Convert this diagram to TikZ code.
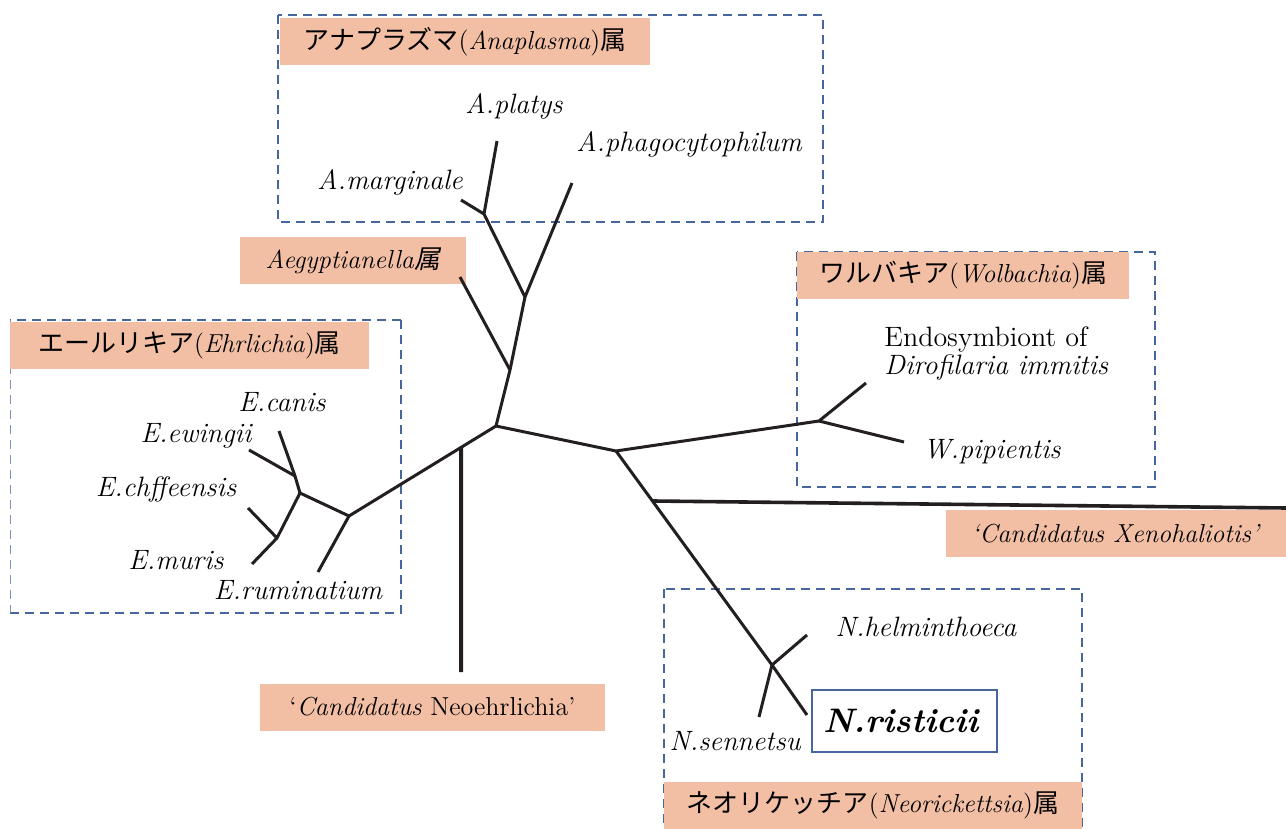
\documentclass[tikz,border=0pt]{standalone}
\usepackage{fontspec}
\newfontfamily\jpfont{Noto Sans CJK JP}
\newfontfamily\jpslant[FakeSlant=0.2]{Noto Sans CJK JP}
\usepackage{xcolor}
\usetikzlibrary{calc}
\definecolor{genusfill}{RGB}{242,191,165}
\definecolor{boxblue}{RGB}{72,102,158}
\definecolor{branchcol}{RGB}{35,31,32}

\begin{document}
\begin{tikzpicture}[
    x=0.5pt, y=-0.5pt,
    branch/.style={draw=branchcol, line width=1.5pt, line join=round},
    group/.style={draw=boxblue, line width=1pt, dash pattern=on 4.5pt off 3pt},
    genus/.style={rectangle, fill=genusfill, inner sep=0pt, minimum height=23.5pt, font=\fontsize{13}{15}\selectfont},
    species/.style={inner sep=0pt, anchor=base, font=\fontsize{14}{15}\selectfont\itshape},
    every node/.style={font=\fontsize{13}{15}\selectfont}
]
    \useasboundingbox (0,0) rectangle (1286,829);

    % Genus frames
    \draw[group] (278,15) rectangle (823,222);
    \draw[group] (401,320) -- (10,320);
    \draw[group] (401,320) -- (401,613) -- (10,613);
    \draw[boxblue!70, line width=0.5pt, dash pattern=on 4.5pt off 3pt] (10,320) -- (10,613);
    \draw[group] (797,252) rectangle (1155,487);
    \draw[group] (664,589) rectangle (1082,829);

    % Genus labels
    \node[genus, minimum width=185pt] (anaplasma) at (465,42) {{\jpfont アナプラズマ}(\textit{Anaplasma}){\jpfont 属}};
    \node[genus, minimum width=113pt] (aegypt) at (353,260.5) {\textit{Aegyptianella}{\jpslant 属}};
    \node[genus, minimum width=179.5pt] (ehrlichia) at (189.5,345) {{\jpfont エールリキア}(\textit{Ehrlichia}){\jpfont 属}};
    \node[genus, minimum width=166pt] (wolbachia) at (963,275.5) {{\jpfont ワルバキア}(\textit{Wolbachia}){\jpfont 属}};
    \node[genus, minimum width=170pt] (xeno) at (1116,533.5) {\textit{`Candidatus Xenohaliotis'}};
    \node[genus, minimum width=172.5pt] (neoehr) at (432.5,707) {`\textit{Candidatus} Neoehrlichia'};
    \node[genus, minimum width=209pt] (neorick) at (873,805.5) {{\jpfont ネオリケッチア}(\textit{Neorickettsia}){\jpfont 属}};

    % Tree junctions and leaves
    \coordinate (c1) at (496,426);
    \coordinate (a0) at (510,370);
    \coordinate (a1) at (525,297);
    \coordinate (a2) at (484,214);
    \coordinate (platysleaf) at (497,141);
    \coordinate (marginaleleaf) at (461,200);
    \coordinate (phagoleaf) at (572,183);
    \coordinate (aegyptleaf) at (460,277);
    \coordinate (e0) at (349,516);
    \coordinate (e1) at (300,493);
    \coordinate (e2) at (295,476);
    \coordinate (e3) at (277,538);
    \coordinate (canisleaf) at (279,431);
    \coordinate (ewingiileaf) at (249,450);
    \coordinate (chffleaf) at (248,508);
    \coordinate (murisleaf) at (252,564);
    \coordinate (ruminleaf) at (318,572);
    \coordinate (neotop) at ($(c1)!0.238!(e0)$);
    \coordinate (neoleaf) at (461,672);
    \coordinate (w0) at (616,451);
    \coordinate (w1) at (819,421);
    \coordinate (diroleaf) at (866,383);
    \coordinate (pipileaf) at (904,442);
    \coordinate (x0) at (653,501);
    \coordinate (xenoleaf) at (1286,508);
    \coordinate (n1) at (772,665);
    \coordinate (helmleaf) at (807,635);
    \coordinate (ristleaf) at (807,715);
    \coordinate (sennleaf) at (759,717);

    % Branches
    \draw[branch] (c1) -- (a0) -- (a1) -- (phagoleaf);
    \draw[branch] (a1) -- (a2) -- (platysleaf);
    \draw[branch] (a2) -- (marginaleleaf);
    \draw[branch] (a0) -- (aegyptleaf);
    \draw[branch] (c1) -- (e0) -- (e1) -- (e2) -- (canisleaf);
    \draw[branch] (e2) -- (ewingiileaf);
    \draw[branch] (e1) -- (e3) -- (chffleaf);
    \draw[branch] (e3) -- (murisleaf);
    \draw[branch] (e0) -- (ruminleaf);
    \draw[branch, line width=2pt] (neotop) -- (neoleaf);
    \draw[branch] (c1) -- (w0) -- (w1) -- (diroleaf);
    \draw[branch] (w1) -- (pipileaf);
    \draw[branch, line width=1.8pt] (x0) -- (xenoleaf);
    \draw[branch] (w0) -- (n1) -- (ristleaf);
    \draw[branch] (n1) -- (helmleaf);
    \draw[branch] (n1) -- (sennleaf);

    % Species names
    \node[species] (platys) at (514,114) {A.platys};
    \node[species] (phago) at (689,152) {A.phagocytophilum};
    \node[species] (marginale) at (390,190) {A.marginale};
    \node[species] (canis) at (282,411) {E.canis};
    \node[species] (ewingii) at (196,442) {E.ewingii};
    \node[species] (chff) at (166,496) {E.chffeensis};
    \node[species] (muris) at (176,569) {E.muris};
    \node[species] (rumin) at (298,599) {E.ruminatium};
    \node[inner sep=0pt, anchor=base west, align=left, font=\fontsize{14}{14}\selectfont] (diro) at (884,374) {Endosymbiont of\\\textit{Dirofilaria immitis}};
    \node[species] (pipi) at (992,458) {W.pipientis};
    \node[species] (helm) at (926,636) {N.helminthoeca};
    \node[species] (senn) at (735,750) {N.sennetsu};
    \node[draw=boxblue, line width=1pt, fill=white, inner xsep=5.5pt, text width=81.5pt, align=left, minimum height=31pt,
          font=\fontsize{17}{19}\selectfont\bfseries\itshape] (risticii) at (904.5,721) {N.risticii};
\end{tikzpicture}
\end{document}
